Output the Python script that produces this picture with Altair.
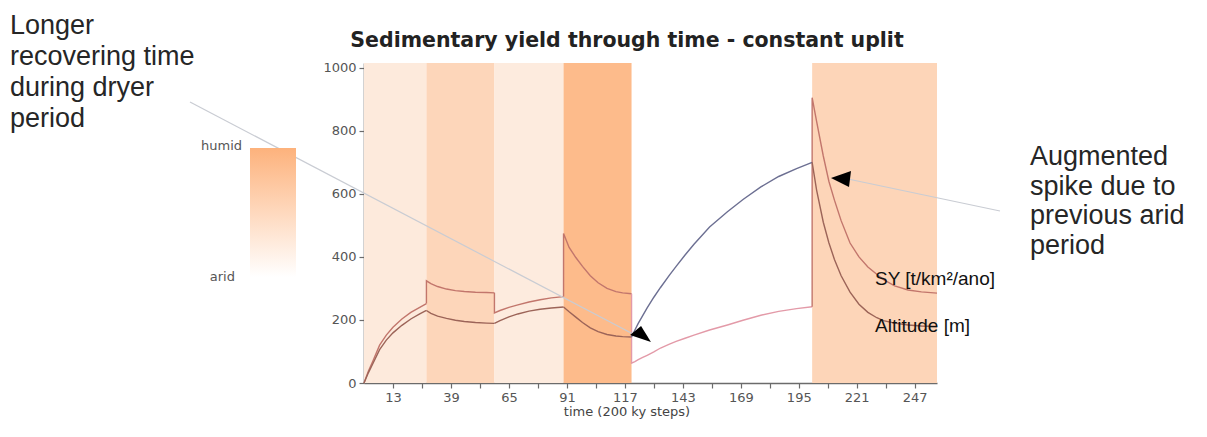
import altair as alt
import pandas as pd

# ---------------- data ----------------
phase_bounds = [0, 28, 58.5, 89.5, 120, 201, 257]
phase_zone = ["humid", "humid", "humid", "humid", "arid", "humid"]
band_names = ["p1", "p2", "p3", "p4", "p6"]
band_start = [0, 28, 58.5, 89.5, 201]
band_end = [28, 58.5, 89.5, 120, 257]
band_colors = ["#fdeadc", "#fdd6ba", "#fdebde", "#fdbb8b", "#fdd5b8"]

t_phases = [
    [0, 2, 4, 7, 10, 13, 17, 21, 25, 28],
    [28, 30, 33, 37, 41, 45, 50, 55, 58.5],
    [58.5, 61, 65, 69, 74, 79, 84, 89.5],
    [89.5, 92, 95, 98, 101.5, 105, 109, 113, 116, 120],
    [120, 121.5, 123, 125, 127, 130, 133, 137, 140, 144, 148, 155, 163, 170, 178, 186, 194, 201],
    [201, 203, 206, 208.5, 211, 214, 218, 222, 226, 230, 233, 238, 244, 250, 257],
]
sy_phases = [
    [0, 38, 70, 120, 152, 177, 203, 224, 240, 252],
    [324, 315, 306, 298, 293, 290, 288, 287, 286],
    [222, 230, 240, 248, 257, 264, 270, 274],
    [474, 430, 398, 370, 340, 318, 300, 290, 286, 283],
    [63, 68, 74, 81, 88, 99, 111, 123, 132, 142, 152, 168, 184, 199, 215, 227, 236, 242],
    [905, 830, 720, 640, 580, 515, 444, 400, 368, 345, 328, 308, 295, 289, 285],
]
alt_phases = [
    [0, 33, 62, 106, 136, 159, 183, 203, 219, 230],
    [230, 221, 212, 205, 199, 195, 192, 190, 189],
    [189, 198, 210, 219, 228, 234, 238, 241],
    [241, 226, 209, 192, 175, 163, 154, 149, 147, 146],
    [146, 168, 189, 214, 238, 272, 303, 342, 370, 406, 440, 495, 543, 582, 622, 655, 680, 700],
    [700, 612, 510, 445, 392, 340, 288, 250, 224, 207, 198, 190, 184, 181, 179],
]

x_tick_values = list(range(13, 248, 13))
y_tick_values = [0, 200, 400, 600, 800, 1000]
y_top = 1015

# ---------------- tables ----------------
rows = []
idx = 0
for name, phases in (("SY", sy_phases), ("Altitude", alt_phases)):
    for k, (ts, vs) in enumerate(zip(t_phases, phases)):
        pts = list(zip(ts, vs))
        if k > 0:
            pts = [(ts[0], phases[k - 1][-1])] + pts
        for t, v in pts:
            rows.append({"t": t, "value": v, "series": name,
                         "group": f"{name}-{k}", "key": f"{name}|{phase_zone[k]}",
                         "idx": idx})
            idx += 1
lines_df = pd.DataFrame(rows)

bands_df = pd.DataFrame({"name": band_names, "start": band_start, "end": band_end,
                         "ymin": [0] * len(band_names), "ymax": [y_top] * len(band_names)})

one = pd.DataFrame({"a": [0]})

FONT = "DejaVu Sans"
xscale = alt.Scale(domain=[0, 257], nice=False, zero=False)
yscale = alt.Scale(domain=[0, y_top], nice=False)
axis_common = dict(grid=False, domainColor="#6b6b6b", domainWidth=1.6, tickColor="#6b6b6b",
                   tickWidth=1.2, tickSize=5, labelFont=FONT, labelFontSize=13,
                   labelColor="#555555", labelPadding=3, title=None)
xaxis = alt.Axis(values=x_tick_values,
                 labelExpr="datum.value % 26 == 13 ? datum.label : ''", **axis_common)
yaxis = alt.Axis(values=y_tick_values, format="d", **axis_common)

bands = alt.Chart(bands_df).mark_rect().encode(
    x=alt.X("start:Q", scale=xscale, axis=xaxis),
    x2="end:Q",
    y=alt.Y("ymin:Q", scale=yscale, axis=yaxis),
    y2="ymax:Q",
    color=alt.Color("name:N", scale=alt.Scale(domain=band_names, range=band_colors), legend=None),
)

line_keys = ["SY|humid", "SY|arid", "Altitude|humid", "Altitude|arid"]
line_colors = ["#c2766c", "#e39aa8", "#9c6458", "#6c6f92"]
lines = alt.Chart(lines_df).mark_line(strokeWidth=1.4).encode(
    x=alt.X("t:Q", scale=xscale, axis=xaxis),
    y=alt.Y("value:Q", scale=yscale, axis=yaxis),
    color=alt.Color("key:N", scale=alt.Scale(domain=line_keys, range=line_colors), legend=None),
    detail="group:N",
    order=alt.Order("idx:Q"),
)

# ---------------- annotations ----------------
def txt(s, x, y, size, **kw):
    return alt.Chart(one).mark_text(fontSize=size, **kw).encode(
        x=alt.value(x), y=alt.value(y), text=alt.value(s))

def rule(x1, y1, x2, y2, color="#c9ccd3", w=1.2):
    return alt.Chart(one).mark_rule(color=color, strokeWidth=w).encode(
        x=alt.value(x1), y=alt.value(y1), x2=alt.value(x2), y2=alt.value(y2))

arrow_line1 = rule(-174, 39, 269, 271)
arrow_line2 = rule(484, 116, 636, 148)
head1 = alt.Chart(one).mark_point(shape="M-0.95,0.09L0.05,-0.73L0.95,0.73Z", filled=True,
                                  color="black", opacity=1, size=484).encode(
    x=alt.value(276.5), y=alt.value(271))
head2 = alt.Chart(one).mark_point(shape="M-1.06,-0.06L0.61,-0.64L0.44,0.69Z", filled=True,
                                  color="black", opacity=1, size=576).encode(
    x=alt.value(479.7), y=alt.value(115.7))

title = txt("Sedimentary yield through time - constant uplit", 263, -16, 20.5,
            font=FONT, fontWeight="bold", color="#222222", align="center", baseline="alphabetic")
xtitle = txt("time (200 ky steps)", 263, 349, 13, font=FONT, color="#444444",
             align="center", baseline="middle")

left_note = txt(["Longer", "recovering time", "during dryer", "period"], -354, -29, 27,
                font="Liberation Sans", color="#262626", align="left", baseline="alphabetic",
                lineHeight=31)
right_note = txt(["Augmented", "spike due to", "previous arid", "period"], 666, 102, 27,
                 font="Liberation Sans", color="#262626", align="left", baseline="alphabetic",
                 lineHeight=29.5)
sy_label = txt("SY [t/km²/ano]", 511, 216, 19, font="Liberation Sans", color="#111111",
               align="left", baseline="middle")
alt_label = txt("Altitude [m]", 511, 263, 19, font="Liberation Sans", color="#111111",
                align="left", baseline="middle")

grad = alt.LinearGradient(gradient="linear", x1=0, x2=0, y1=0, y2=1,
                          stops=[alt.GradientStop(color="#fdb27c", offset=0),
                                 alt.GradientStop(color="#ffffff", offset=1)])
legend_bar = alt.Chart(one).mark_rect(color=grad).encode(
    x=alt.value(-114), x2=alt.value(-68), y=alt.value(85), y2=alt.value(214))
humid_lbl = txt("humid", -122, 83, 13, font=FONT, color="#555555", align="right", baseline="middle")
arid_lbl = txt("arid", -129, 214, 13, font=FONT, color="#555555", align="right", baseline="middle")

chart = alt.layer(
    bands, lines, arrow_line1, arrow_line2, head1, head2,
    title, xtitle, left_note, right_note, sy_label, alt_label,
    legend_bar, humid_lbl, arid_lbl,
).resolve_scale(color="independent").properties(
    width=573, height=320,
    autosize=alt.AutoSizeParams(type="none"),
    padding={"left": 356, "top": 55, "right": 250, "bottom": 40},
).configure_view(stroke=None)

chart.save("out.html", embed_options={"renderer": "svg", "actions": False})
